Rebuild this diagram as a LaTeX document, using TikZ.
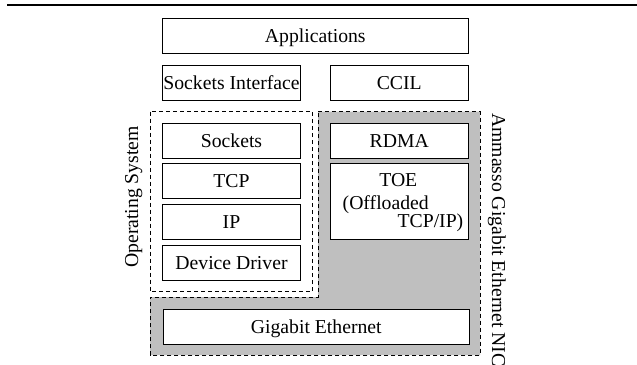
\documentclass[tikz,border=0pt]{standalone}
\usepackage{fontspec}
\setmainfont{Liberation Serif}
\begin{document}
\begin{tikzpicture}[x=1pt,y=-1pt,
  txt/.style={inner sep=0pt, font=\fontsize{19.7}{20}\selectfont},
  box/.style={txt, draw, fill=white, line width=0.9pt, text height=13pt, text depth=0pt},
  wbox/.style={box, minimum width=306pt, minimum height=35pt},
  sbox/.style={box, minimum width=138.4pt, minimum height=35pt},
  dashline/.style={draw, line width=0.8pt, dash pattern=on 4pt off 3pt},
  nicfill/.style={dashline, fill=black!25}
]
\useasboundingbox (0,0) rectangle (637,364);
\draw[line width=2pt] (7,5) -- (637,5);
% gray NIC region
\draw[nicfill] (318,111.7) -- (480,111.7) -- (480,355) -- (150,355) -- (150,297) -- (318,297) -- cycle;
% OS region
\draw[dashline] (150,111.7) rectangle (312.3,291.7);
% boxes
\node[wbox] (app) at (315.3,35.8) {Applications};
\node[sbox] (sockif) at (231.5,82.8) {Sockets Interface};
\node[sbox] (ccil) at (399.2,82.8) {CCIL};
\node[sbox] (sockets) at (231.5,140.8) {Sockets};
\node[sbox] (rdma) at (399.2,140.8) {RDMA};
\node[sbox] (tcp) at (231.5,180.8) {TCP};
\node[sbox] (ip) at (231.5,221.8) {IP};
\node[sbox] (dd) at (231.5,262.5) {Device Driver};
\node[sbox, minimum height=76pt] (toe) at (399.2,201.3) {};
\node[txt, anchor=base] (toe1) at (398.3,186.7) {TOE};
\node[txt, anchor=base west] (toe2) at (342.5,209.3) {(Offloaded};
\node[txt, anchor=base east] (toe3) at (463.5,227.3) {TCP/IP)};
\node[wbox, minimum height=34.7pt] (gbe) at (316.3,326.7) {Gigabit Ethernet};
% side labels
\node[txt, rotate=90, anchor=base west] (os) at (138,268) {Operating System};
\node[txt, rotate=-90, anchor=base west] (nic) at (492,113) {Ammasso Gigabit Ethernet NIC};
\end{tikzpicture}
\end{document}
